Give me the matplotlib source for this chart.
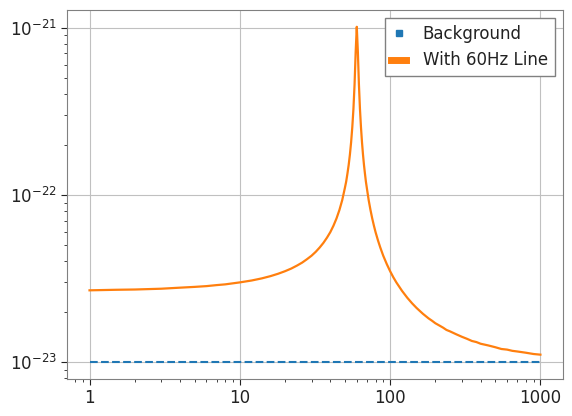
import matplotlib
matplotlib.use("Agg")
import matplotlib.pyplot as plt
from matplotlib.lines import Line2D
from matplotlib.ticker import FuncFormatter, NullFormatter

# frequency axis (Hz) and amplitude values
freq = [1, 1.5, 2, 3, 4, 5, 6, 7, 8, 10, 12, 14, 16, 18, 20, 22, 24, 26, 28,
        30, 32, 34, 36, 38, 40, 42, 44, 46, 48, 50, 51, 52, 53, 54, 55, 56,
        57, 58, 59, 60, 61, 62, 63, 64, 65, 66, 67, 68, 69, 70, 72, 74, 76,
        78, 80, 83, 86, 90, 95, 100, 105, 110, 120, 130, 140, 150, 165, 180,
        190, 200, 212, 225, 237, 250, 275, 300, 325, 350, 375, 400, 450, 500,
        550, 600, 650, 700, 800, 900, 1000]
with_line = [2.69e-23, 2.71e-23, 2.72e-23, 2.75e-23, 2.79e-23, 2.82e-23,
             2.85e-23, 2.89e-23, 2.92e-23, 3.00e-23, 3.08e-23, 3.17e-23,
             3.27e-23, 3.38e-23, 3.50e-23, 3.63e-23, 3.78e-23, 3.94e-23,
             4.13e-23, 4.33e-23, 4.57e-23, 4.85e-23, 5.17e-23, 5.55e-23,
             5.99e-23, 6.55e-23, 7.24e-23, 8.13e-23, 9.30e-23, 1.10e-22,
             1.20e-22, 1.34e-22, 1.51e-22, 1.74e-22, 2.06e-22, 2.53e-22,
             3.26e-22, 4.57e-22, 7.17e-22, 1.01e-21, 7.17e-22, 4.57e-22,
             3.26e-22, 2.53e-22, 2.06e-22, 1.74e-22, 1.51e-22, 1.34e-22,
             1.20e-22, 1.10e-22, 9.30e-23, 8.13e-23, 7.24e-23, 6.55e-23,
             5.99e-23, 5.35e-23, 4.85e-23, 4.33e-23, 3.86e-23, 3.50e-23,
             3.22e-23, 3.00e-23, 2.67e-23, 2.43e-23, 2.25e-23, 2.11e-23,
             1.95e-23, 1.83e-23, 1.77e-23, 1.71e-23, 1.66e-23, 1.61e-23,
             1.56e-23, 1.53e-23, 1.47e-23, 1.42e-23, 1.38e-23, 1.34e-23,
             1.32e-23, 1.29e-23, 1.26e-23, 1.23e-23, 1.20e-23, 1.19e-23,
             1.17e-23, 1.16e-23, 1.14e-23, 1.12e-23, 1.11e-23]
bg_freq = [1, 1000]
background = [1e-23, 1e-23]

labels = ["Background", "With 60Hz Line"]
colors = ["#1f77b4", "#ff7f0e"]

plt.rcParams["font.family"] = "DejaVu Sans"
plt.rcParams["text.color"] = "#222222"

fig = plt.figure(figsize=(5.72, 4.16), dpi=100)
ax = fig.add_axes([0.1171, 0.0889, 0.8671, 0.887])

ax.plot(bg_freq, background, color=colors[0], linestyle="--", linewidth=1.5)
ax.plot(freq, with_line, color=colors[1], linewidth=1.6)

ax.set_xscale("log")
ax.set_yscale("log")

ax.xaxis.set_major_formatter(FuncFormatter(lambda v, p: f"{v:g}"))
ax.xaxis.set_minor_formatter(NullFormatter())

ax.grid(True, which="major", color="#c0c0c0", linewidth=0.8)
ax.set_axisbelow(True)
for s in ax.spines.values():
    s.set_color("#808080")
ax.tick_params(which="major", direction="out", length=4, width=0.8,
               labelsize=12, colors="#222222")
ax.tick_params(which="minor", direction="out", length=2.5, width=0.6,
               colors="#222222")

handles = [
    Line2D([], [], color=colors[0], marker="s", markersize=5, linestyle="none"),
    Line2D([], [], color=colors[1], linewidth=5),
]
leg = ax.legend(handles, labels, loc="upper right", fontsize=12,
                handlelength=0.9, handletextpad=1.0, fancybox=False,
                framealpha=1, borderaxespad=0.5)
leg.get_frame().set_edgecolor("#808080")

fig.savefig("out.png", dpi=100)
